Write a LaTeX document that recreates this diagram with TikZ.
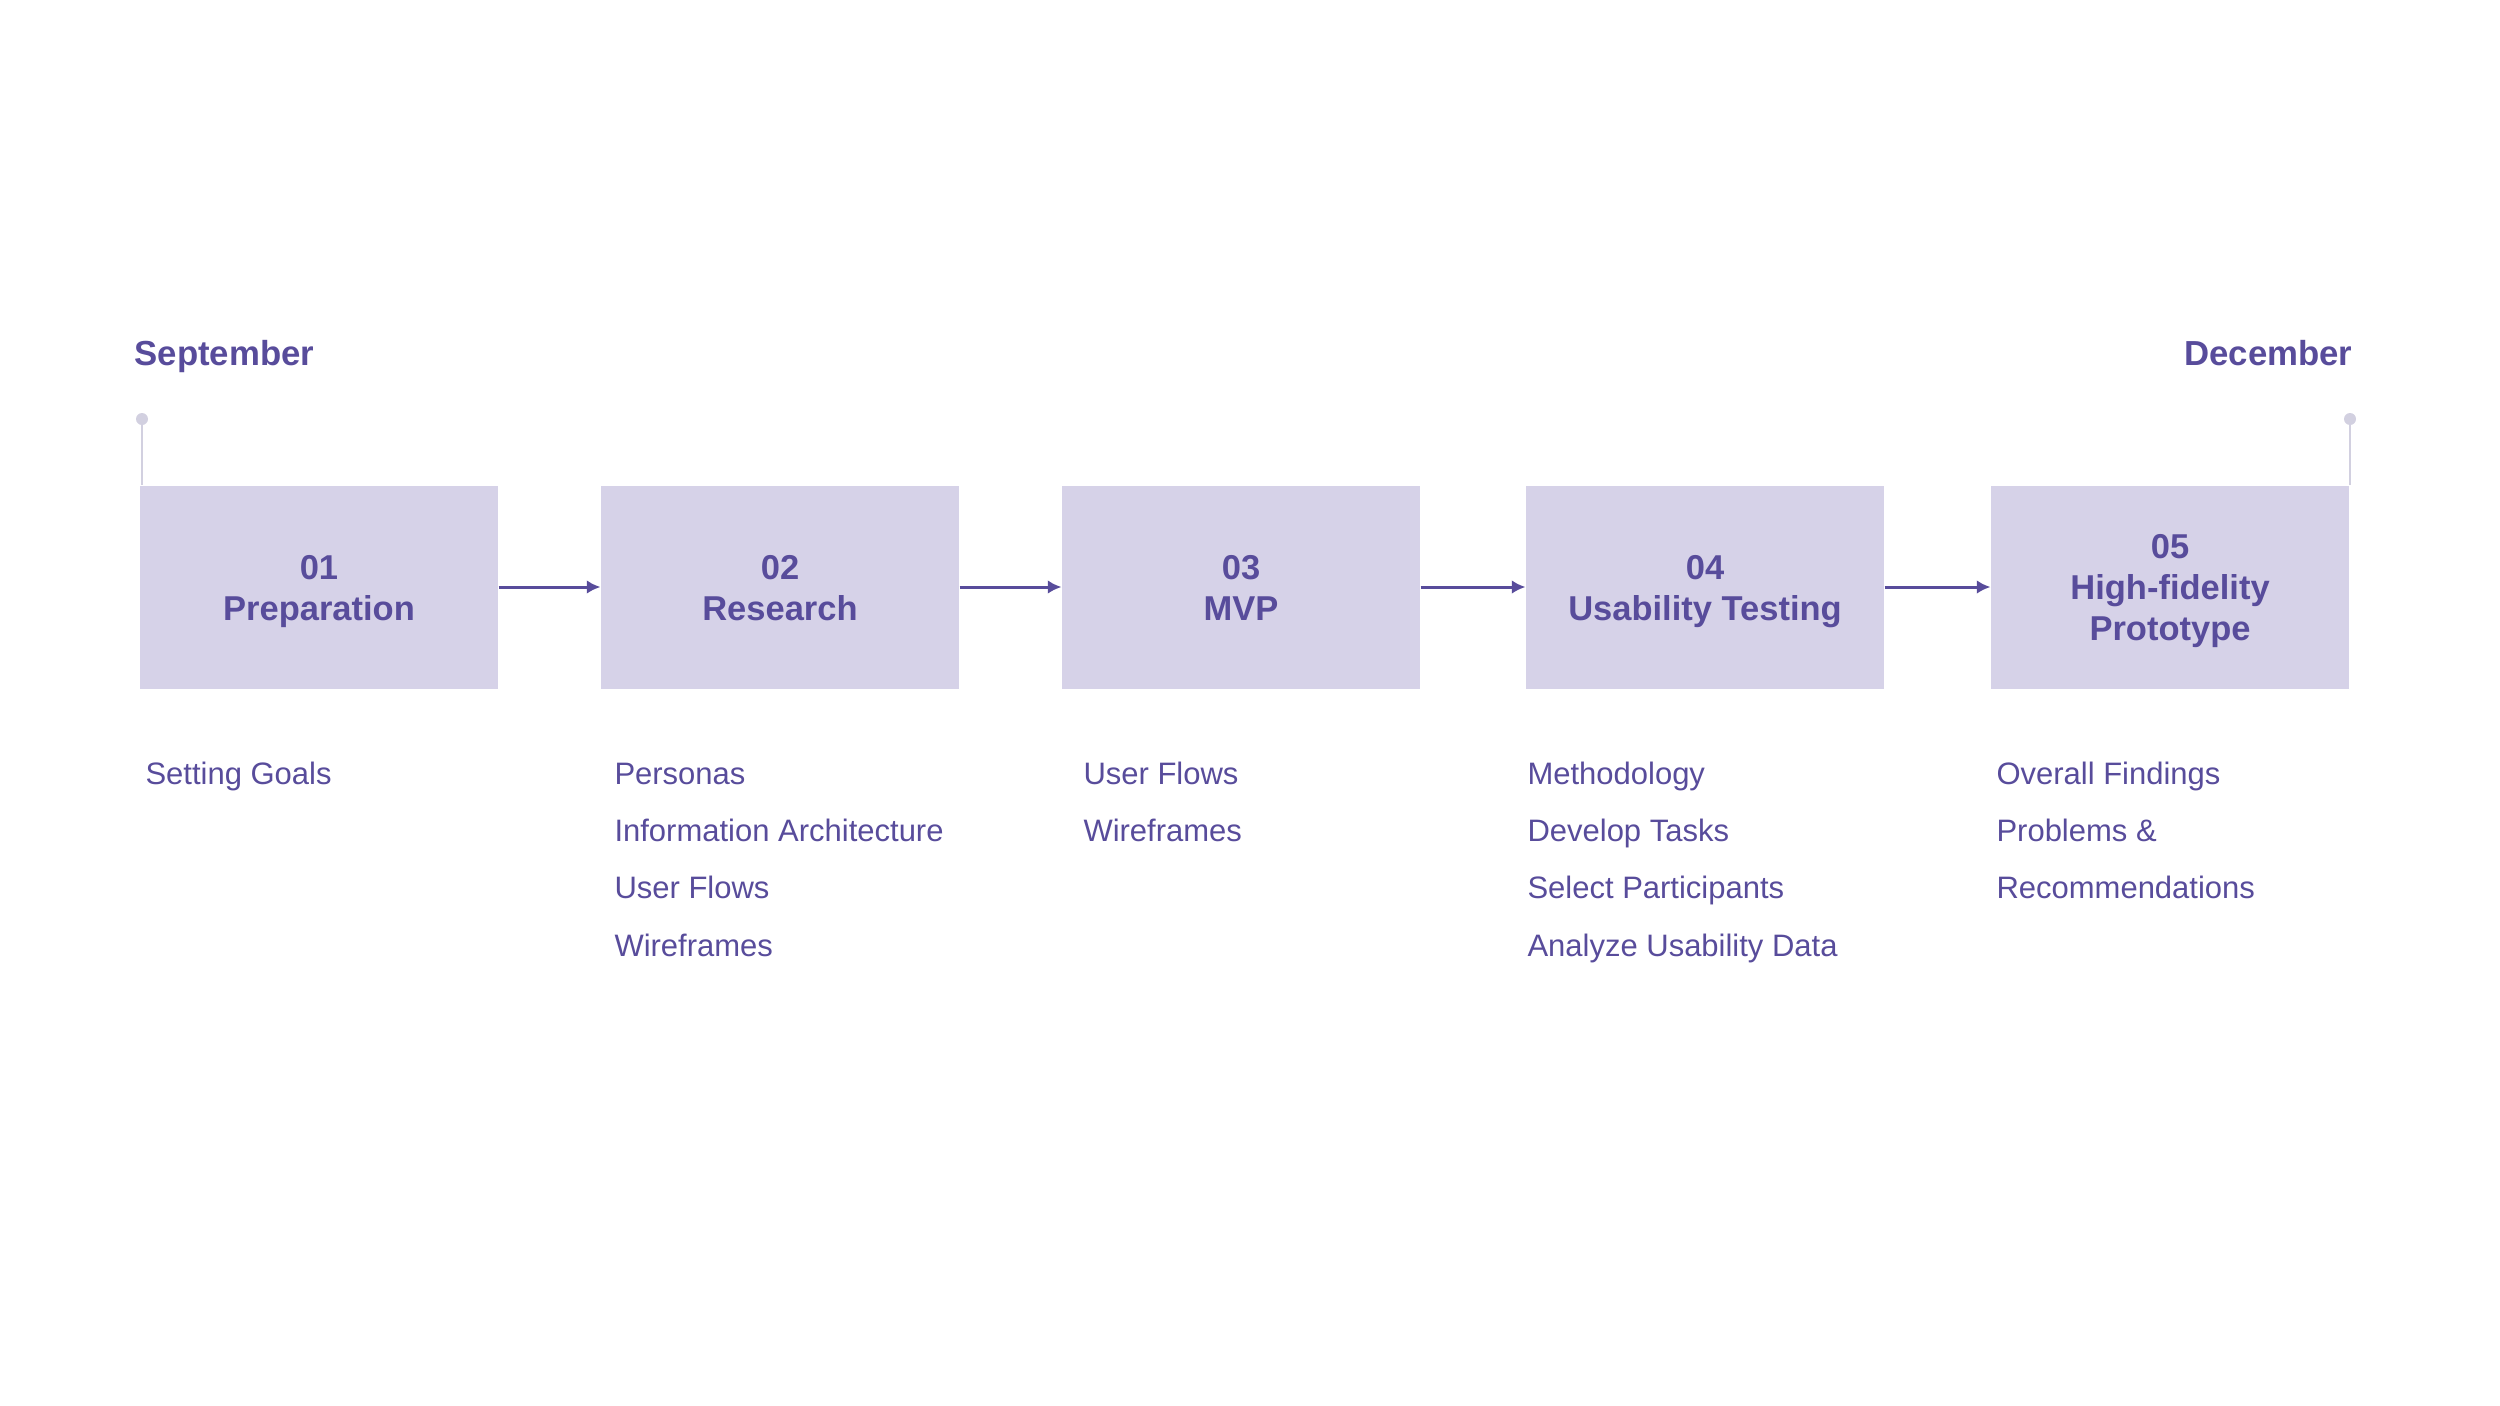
\documentclass[tikz,border=0pt]{standalone}
\usepackage{fontspec}
\setmainfont{Liberation Sans}
\usetikzlibrary{arrows.meta}
\definecolor{plum}{RGB}{88,76,155}
\definecolor{lilac}{RGB}{214,210,232}
\definecolor{mist}{RGB}{210,208,224}
\newcommand{\stagetop}{\rule{0pt}{15pt}}
\newcommand{\stagebottom}{\rule[-5pt]{0pt}{5pt}}
\tikzset{
    stage/.style={fill=lilac, text=plum, align=center, inner sep=0pt,
        minimum width=143.2pt, minimum height=81.2pt,
        font=\fontsize{13.8pt}{16.4pt}\selectfont\bfseries}, % phase box
    month/.style={text=plum, inner sep=0pt,
        font=\fontsize{13.9pt}{16pt}\selectfont\bfseries}, % start / end label
    task/.style={text=plum, inner sep=0pt, anchor=base west,
        font=\fontsize{12.4pt}{14pt}\selectfont}, % item under a phase
    flow/.style={draw=plum, line width=1.2pt, -{Latex[length=5.5pt, width=5.5pt]}},
    marker/.style={draw=mist, line width=0.8pt},
}

\begin{document}
\begin{tikzpicture}[x=0.4pt, y=-0.4pt]
        \useasboundingbox (0, 0) rectangle (2500, 1406);
        % months
        \node[month, anchor=base west] (sep) at (134, 365) {September};
        \node[month, anchor=base east] (dec) at (2353, 365) {December};
        % phases
        \node[stage] (s1) at (319, 587) {\stagetop 01\\Preparation\stagebottom};
        \node[stage] (s2) at (780, 587) {\stagetop 02\\Research\stagebottom};
        \node[stage] (s3) at (1241, 587) {\stagetop 03\\MVP\stagebottom};
        \node[stage] (s4) at (1705, 587) {\stagetop 04\\Usability Testing\stagebottom};
        \node[stage] (s5) at (2170, 587) {\stagetop 05\\High-fidelity\\Prototype\stagebottom};
        \draw[flow] (s1.east) -- (s2.west);
        \draw[flow] (s2.east) -- (s3.west);
        \draw[flow] (s3.east) -- (s4.west);
        \draw[flow] (s4.east) -- (s5.west);
        % start and end pins
        \coordinate (pinl) at (142, 419);
        \coordinate (pinr) at (2350, 419);
        \draw[marker] (pinl) -- (pinl |- s1.north);
        \draw[marker] (pinr) -- (pinr |- s5.north);
        \fill[mist] (pinl) circle (6);
        \fill[mist] (pinr) circle (6);
        % items
        \foreach \t [count=\i] in {Setting Goals}
            \node[task] (t1-\i) at (145, 726.6+57.4*\i) {\t};
        \foreach \t [count=\i] in {Personas, Information Architecture, User Flows, Wireframes}
            \node[task] (t2-\i) at (614, 726.6+57.4*\i) {\t};
        \foreach \t [count=\i] in {User Flows, Wireframes}
            \node[task] (t3-\i) at (1083, 726.6+57.4*\i) {\t};
        \foreach \t [count=\i] in {Methodology, Develop Tasks, Select Participants, Analyze Usability Data}
            \node[task] (t4-\i) at (1527, 726.6+57.4*\i) {\t};
        \foreach \t [count=\i] in {Overall Findings, Problems \&, Recommendations}
            \node[task] (t5-\i) at (1996, 726.6+57.4*\i) {\t};
    \end{tikzpicture}
\end{document}
